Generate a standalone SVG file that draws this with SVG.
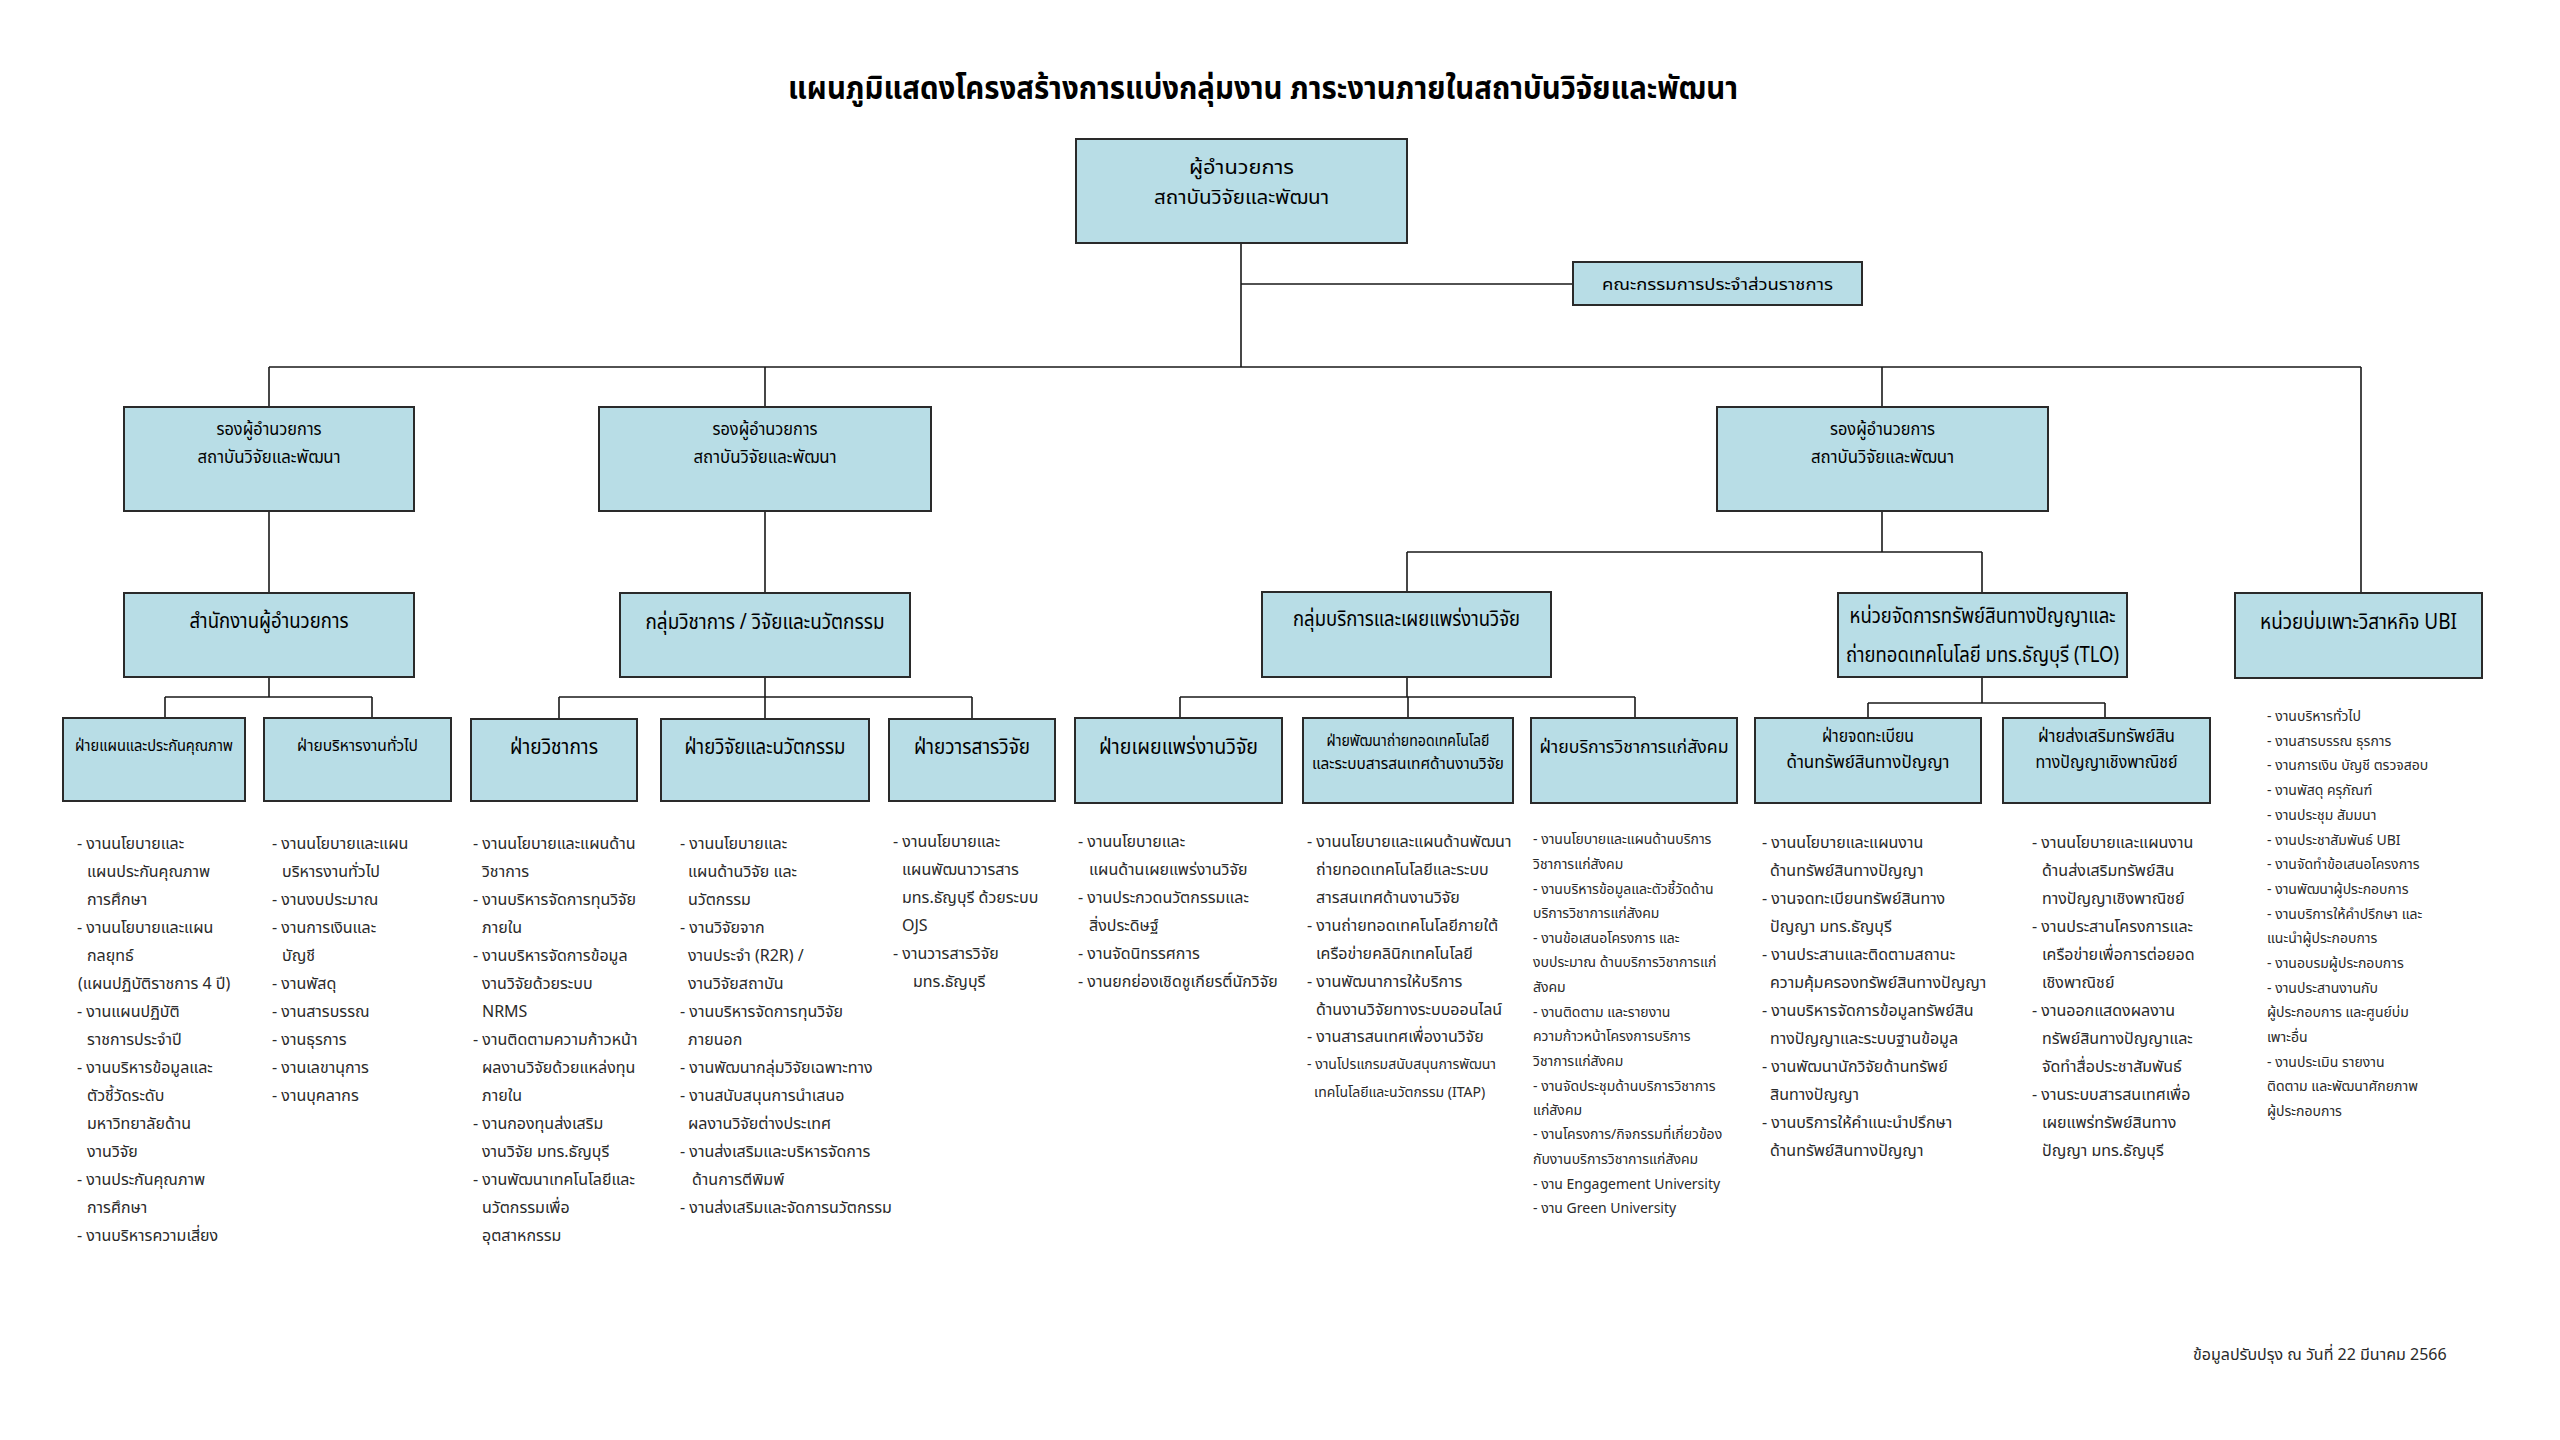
<svg xmlns="http://www.w3.org/2000/svg" width="2560" height="1440" viewBox="0 0 2560 1440">
<style>
.box{fill:#b8dde6;stroke:#2a2a2a;stroke-width:2}
.ln{stroke:#1a1a1a;stroke-width:1.6;fill:none}
.t{font-family:'Noto Sans Thai','Noto Sans Thai UI','Noto Sans','Liberation Sans',sans-serif;fill:#000;text-anchor:middle}
.li{font-family:'Noto Sans Thai','Noto Sans Thai UI','Noto Sans','Liberation Sans',sans-serif;fill:#2a2a2a;font-size:16px}
.ls{font-size:14px}
</style>
<rect width="2560" height="1440" fill="#fff"/>
<text class="t" x="1263" y="99" font-size="32" font-weight="bold" textLength="950" lengthAdjust="spacingAndGlyphs">แผนภูมิแสดงโครงสร้างการแบ่งกลุ่มงาน ภาระงานภายในสถาบันวิจัยและพัฒนา</text>

<g id="connectors">
<path class="ln" d="M1241 243V367M1241 284H1573M269 367H2361M269 367V407M765 367V407M1882 367V407M2361 367V593"/>
<path class="ln" d="M269 511V593M765 511V593M1882 511V552M1407 552H1982M1407 552V592M1982 552V593"/>
<path class="ln" d="M269 677V697M165 697H372M165 697V718M372 697V718"/>
<path class="ln" d="M765 677V697M559 697H972M559 697V719M765 697V719M972 697V719"/>
<path class="ln" d="M1407 677V697M1180 697H1635M1180 697V718M1408 697V718M1635 697V718"/>
<path class="ln" d="M1982 677V703M1868 703H2105M1868 703V718M2105 703V718"/>
</g>

<g id="director">
<rect class="box" x="1076" y="139" width="331" height="104"/>
<text class="t" x="1241.5" y="174" font-size="19" textLength="105" lengthAdjust="spacingAndGlyphs">ผู้อำนวยการ</text>
<text class="t" x="1241.5" y="204" font-size="19" textLength="175" lengthAdjust="spacingAndGlyphs">สถาบันวิจัยและพัฒนา</text>
</g>
<g id="committee">
<rect class="box" x="1573" y="262" width="289" height="43"/>
<text class="t" x="1717.5" y="290" font-size="16" textLength="231" lengthAdjust="spacingAndGlyphs">คณะกรรมการประจำส่วนราชการ</text>
</g>

<g id="deputy1">
<rect class="box" x="124" y="407" width="290" height="104"/>
<text class="t" x="269" y="435" font-size="18" textLength="105" lengthAdjust="spacingAndGlyphs">รองผู้อำนวยการ</text>
<text class="t" x="269" y="463" font-size="18" textLength="143" lengthAdjust="spacingAndGlyphs">สถาบันวิจัยและพัฒนา</text>
</g>
<g id="deputy2">
<rect class="box" x="599" y="407" width="332" height="104"/>
<text class="t" x="765" y="435" font-size="18" textLength="105" lengthAdjust="spacingAndGlyphs">รองผู้อำนวยการ</text>
<text class="t" x="765" y="463" font-size="18" textLength="143" lengthAdjust="spacingAndGlyphs">สถาบันวิจัยและพัฒนา</text>
</g>
<g id="deputy3">
<rect class="box" x="1717" y="407" width="331" height="104"/>
<text class="t" x="1882.5" y="435" font-size="18" textLength="105" lengthAdjust="spacingAndGlyphs">รองผู้อำนวยการ</text>
<text class="t" x="1882.5" y="463" font-size="18" textLength="143" lengthAdjust="spacingAndGlyphs">สถาบันวิจัยและพัฒนา</text>
</g>

<g id="office">
<rect class="box" x="124" y="593" width="290" height="84"/>
<text class="t" x="269" y="628" font-size="21" textLength="159" lengthAdjust="spacingAndGlyphs">สำนักงานผู้อำนวยการ</text>
</g>
<g id="academic">
<rect class="box" x="620" y="593" width="290" height="84"/>
<text class="t" x="765" y="629" font-size="21" textLength="239" lengthAdjust="spacingAndGlyphs">กลุ่มวิชาการ / วิจัยและนวัตกรรม</text>
</g>
<g id="service">
<rect class="box" x="1262" y="592" width="289" height="85"/>
<text class="t" x="1406.5" y="626" font-size="21" textLength="227" lengthAdjust="spacingAndGlyphs">กลุ่มบริการและเผยแพร่งานวิจัย</text>
</g>
<g id="tlo">
<rect class="box" x="1838" y="593" width="289" height="84"/>
<text class="t" x="1982.5" y="623" font-size="21" textLength="266" lengthAdjust="spacingAndGlyphs">หน่วยจัดการทรัพย์สินทางปัญญาและ</text>
<text class="t" x="1982.5" y="662" font-size="21" textLength="273" lengthAdjust="spacingAndGlyphs">ถ่ายทอดเทคโนโลยี มทร.ธัญบุรี (TLO)</text>
</g>
<g id="ubi">
<rect class="box" x="2235" y="593" width="247" height="85"/>
<text class="t" x="2358.5" y="629" font-size="21" textLength="197" lengthAdjust="spacingAndGlyphs">หน่วยบ่มเพาะวิสาหกิจ UBI</text>
</g>

<g id="div-plan">
<rect class="box" x="63" y="718" width="182" height="83"/>
<text class="t" x="154" y="751" font-size="16" textLength="158" lengthAdjust="spacingAndGlyphs">ฝ่ายแผนและประกันคุณภาพ</text>
</g>
<g id="div-admin">
<rect class="box" x="264" y="718" width="187" height="83"/>
<text class="t" x="357.5" y="751" font-size="16" textLength="121" lengthAdjust="spacingAndGlyphs">ฝ่ายบริหารงานทั่วไป</text>
</g>
<g id="div-academic">
<rect class="box" x="471" y="719" width="166" height="82"/>
<text class="t" x="554" y="754" font-size="21" textLength="88" lengthAdjust="spacingAndGlyphs">ฝ่ายวิชาการ</text>
</g>
<g id="div-research">
<rect class="box" x="661" y="719" width="208" height="82"/>
<text class="t" x="765" y="754" font-size="21" textLength="161" lengthAdjust="spacingAndGlyphs">ฝ่ายวิจัยและนวัตกรรม</text>
</g>
<g id="div-journal">
<rect class="box" x="889" y="719" width="166" height="82"/>
<text class="t" x="972" y="754" font-size="21" textLength="116" lengthAdjust="spacingAndGlyphs">ฝ่ายวารสารวิจัย</text>
</g>
<g id="div-dissem">
<rect class="box" x="1075" y="718" width="207" height="85"/>
<text class="t" x="1178.5" y="754" font-size="21" textLength="159" lengthAdjust="spacingAndGlyphs">ฝ่ายเผยแพร่งานวิจัย</text>
</g>
<g id="div-tech">
<rect class="box" x="1303" y="718" width="210" height="85"/>
<text class="t" x="1408" y="746" font-size="15" textLength="163" lengthAdjust="spacingAndGlyphs">ฝ่ายพัฒนาถ่ายทอดเทคโนโลยี</text>
<text class="t" x="1408" y="769" font-size="15" textLength="192" lengthAdjust="spacingAndGlyphs">และระบบสารสนเทศด้านงานวิจัย</text>
</g>
<g id="div-social">
<rect class="box" x="1531" y="718" width="206" height="85"/>
<text class="t" x="1634" y="753" font-size="18" textLength="189" lengthAdjust="spacingAndGlyphs">ฝ่ายบริการวิชาการแก่สังคม</text>
</g>
<g id="div-ipreg">
<rect class="box" x="1755" y="718" width="226" height="85"/>
<text class="t" x="1868" y="742" font-size="18" textLength="92" lengthAdjust="spacingAndGlyphs">ฝ่ายจดทะเบียน</text>
<text class="t" x="1868" y="768" font-size="18" textLength="163" lengthAdjust="spacingAndGlyphs">ด้านทรัพย์สินทางปัญญา</text>
</g>
<g id="div-ipcom">
<rect class="box" x="2003" y="718" width="207" height="85"/>
<text class="t" x="2106.5" y="742" font-size="18" textLength="137" lengthAdjust="spacingAndGlyphs">ฝ่ายส่งเสริมทรัพย์สิน</text>
<text class="t" x="2106.5" y="768" font-size="18" textLength="142" lengthAdjust="spacingAndGlyphs">ทางปัญญาเชิงพาณิชย์</text>
</g>

<g id="lists">
<text class="li">
<tspan x="77" y="849">- งานนโยบายและ</tspan>
<tspan x="87" y="877">แผนประกันคุณภาพ</tspan>
<tspan x="87" y="905">การศึกษา</tspan>
<tspan x="77" y="933">- งานนโยบายและแผน</tspan>
<tspan x="87" y="961">กลยุทธ์</tspan>
<tspan x="78" y="989">(แผนปฏิบัติราชการ 4 ปี)</tspan>
<tspan x="77" y="1017">- งานแผนปฏิบัติ</tspan>
<tspan x="87" y="1045">ราชการประจำปี</tspan>
<tspan x="77" y="1073">- งานบริหารข้อมูลและ</tspan>
<tspan x="87" y="1101">ตัวชี้วัดระดับ</tspan>
<tspan x="87" y="1129">มหาวิทยาลัยด้าน</tspan>
<tspan x="87" y="1157">งานวิจัย</tspan>
<tspan x="77" y="1185">- งานประกันคุณภาพ</tspan>
<tspan x="87" y="1213">การศึกษา</tspan>
<tspan x="77" y="1241">- งานบริหารความเสี่ยง</tspan>
</text>
<text class="li">
<tspan x="272" y="849">- งานนโยบายและแผน</tspan>
<tspan x="282" y="877">บริหารงานทั่วไป</tspan>
<tspan x="272" y="905">-  งานงบประมาณ</tspan>
<tspan x="272" y="933">- งานการเงินและ</tspan>
<tspan x="282" y="961">บัญชี</tspan>
<tspan x="272" y="989">- งานพัสดุ</tspan>
<tspan x="272" y="1017">- งานสารบรรณ</tspan>
<tspan x="272" y="1045">- งานธุรการ</tspan>
<tspan x="272" y="1073">- งานเลขานุการ</tspan>
<tspan x="272" y="1101">- งานบุคลากร</tspan>
</text>
<text class="li">
<tspan x="473" y="849">- งานนโยบายและแผนด้าน</tspan>
<tspan x="482" y="877">วิชาการ</tspan>
<tspan x="473" y="905">- งานบริหารจัดการทุนวิจัย</tspan>
<tspan x="482" y="933">ภายใน</tspan>
<tspan x="473" y="961">- งานบริหารจัดการข้อมูล</tspan>
<tspan x="482" y="989">งานวิจัยด้วยระบบ</tspan>
<tspan x="482" y="1017">NRMS</tspan>
<tspan x="473" y="1045">- งานติดตามความก้าวหน้า</tspan>
<tspan x="482" y="1073">ผลงานวิจัยด้วยแหล่งทุน</tspan>
<tspan x="482" y="1101">ภายใน</tspan>
<tspan x="473" y="1129">- งานกองทุนส่งเสริม</tspan>
<tspan x="482" y="1157">งานวิจัย มทร.ธัญบุรี</tspan>
<tspan x="473" y="1185">- งานพัฒนาเทคโนโลยีและ</tspan>
<tspan x="482" y="1213">นวัตกรรมเพื่อ</tspan>
<tspan x="482" y="1241">อุตสาหกรรม</tspan>
</text>
<text class="li">
<tspan x="680" y="849">- งานนโยบายและ</tspan>
<tspan x="688" y="877">แผนด้านวิจัย และ</tspan>
<tspan x="688" y="905">นวัตกรรม</tspan>
<tspan x="680" y="933">- งานวิจัยจาก</tspan>
<tspan x="688" y="961">งานประจำ (R2R)  /</tspan>
<tspan x="688" y="989">งานวิจัยสถาบัน</tspan>
<tspan x="680" y="1017">- งานบริหารจัดการทุนวิจัย</tspan>
<tspan x="688" y="1045">ภายนอก</tspan>
<tspan x="680" y="1073">- งานพัฒนากลุ่มวิจัยเฉพาะทาง</tspan>
<tspan x="680" y="1101">- งานสนับสนุนการนำเสนอ</tspan>
<tspan x="688" y="1129">ผลงานวิจัยต่างประเทศ</tspan>
<tspan x="680" y="1157">- งานส่งเสริมและบริหารจัดการ</tspan>
<tspan x="692" y="1185">ด้านการตีพิมพ์</tspan>
<tspan x="680" y="1213">- งานส่งเสริมและจัดการนวัตกรรม</tspan>
</text>
<text class="li">
<tspan x="893" y="847">- งานนโยบายและ</tspan>
<tspan x="902" y="875">แผนพัฒนาวารสาร</tspan>
<tspan x="902" y="903">มทร.ธัญบุรี ด้วยระบบ</tspan>
<tspan x="902" y="931">OJS</tspan>
<tspan x="893" y="959">- งานวารสารวิจัย</tspan>
<tspan x="913" y="987">มทร.ธัญบุรี</tspan>
</text>
<text class="li">
<tspan x="1078" y="847">- งานนโยบายและ</tspan>
<tspan x="1089" y="875">แผนด้านเผยแพร่งานวิจัย</tspan>
<tspan x="1078" y="903">- งานประกวดนวัตกรรมและ</tspan>
<tspan x="1089" y="931">สิ่งประดิษฐ์</tspan>
<tspan x="1078" y="959">- งานจัดนิทรรศการ</tspan>
<tspan x="1078" y="987">- งานยกย่องเชิดชูเกียรติ์นักวิจัย</tspan>
</text>
<text class="li">
<tspan x="1307" y="847">- งานนโยบายและแผนด้านพัฒนา</tspan>
<tspan x="1316" y="875">ถ่ายทอดเทคโนโลยีและระบบ</tspan>
<tspan x="1316" y="903">สารสนเทศด้านงานวิจัย</tspan>
<tspan x="1307" y="931">- งานถ่ายทอดเทคโนโลยีภายใต้</tspan>
<tspan x="1316" y="959">เครือข่ายคลินิกเทคโนโลยี</tspan>
<tspan x="1307" y="987">- งานพัฒนาการให้บริการ</tspan>
<tspan x="1316" y="1015">ด้านงานวิจัยทางระบบออนไลน์</tspan>
<tspan x="1307" y="1042">- งานสารสนเทศเพื่องานวิจัย</tspan>
<tspan class="ls" x="1307" y="1069">- งานโปรแกรมสนับสนุนการพัฒนา</tspan>
<tspan class="ls" x="1314" y="1097">เทคโนโลยีและนวัตกรรม (ITAP)</tspan>
</text>
<text class="li ls">
<tspan x="1533" y="844">- งานนโยบายและแผนด้านบริการ</tspan>
<tspan x="1533" y="869">วิชาการแก่สังคม</tspan>
<tspan x="1533" y="894">- งานบริหารข้อมูลและตัวชี้วัดด้าน</tspan>
<tspan x="1533" y="918">บริการวิชาการแก่สังคม</tspan>
<tspan x="1533" y="943">- งานข้อเสนอโครงการ และ</tspan>
<tspan x="1533" y="967">งบประมาณ ด้านบริการวิชาการแก่</tspan>
<tspan x="1533" y="992">สังคม</tspan>
<tspan x="1533" y="1017">- งานติดตาม และรายงาน</tspan>
<tspan x="1533" y="1041">ความก้าวหน้าโครงการบริการ</tspan>
<tspan x="1533" y="1066">วิชาการแก่สังคม</tspan>
<tspan x="1533" y="1091">- งานจัดประชุมด้านบริการวิชาการ</tspan>
<tspan x="1533" y="1115">แก่สังคม</tspan>
<tspan x="1533" y="1139">- งานโครงการ/กิจกรรมที่เกี่ยวข้อง</tspan>
<tspan x="1533" y="1164">กับงานบริการวิชาการแก่สังคม</tspan>
<tspan x="1533" y="1189">- งาน Engagement University</tspan>
<tspan x="1533" y="1213">- งาน Green University</tspan>
</text>
<text class="li">
<tspan x="1762" y="848">- งานนโยบายและแผนงาน</tspan>
<tspan x="1770" y="876">ด้านทรัพย์สินทางปัญญา</tspan>
<tspan x="1762" y="904">- งานจดทะเบียนทรัพย์สินทาง</tspan>
<tspan x="1770" y="932">ปัญญา มทร.ธัญบุรี</tspan>
<tspan x="1762" y="960">- งานประสานและติดตามสถานะ</tspan>
<tspan x="1770" y="988">ความคุ้มครองทรัพย์สินทางปัญญา</tspan>
<tspan x="1762" y="1016">- งานบริหารจัดการข้อมูลทรัพย์สิน</tspan>
<tspan x="1770" y="1044">ทางปัญญาและระบบฐานข้อมูล</tspan>
<tspan x="1762" y="1072">- งานพัฒนานักวิจัยด้านทรัพย์</tspan>
<tspan x="1770" y="1100">สินทางปัญญา</tspan>
<tspan x="1762" y="1128">- งานบริการให้คำแนะนำปรึกษา</tspan>
<tspan x="1770" y="1156">ด้านทรัพย์สินทางปัญญา</tspan>
</text>
<text class="li">
<tspan x="2032" y="848">- งานนโยบายและแผนงาน</tspan>
<tspan x="2042" y="876">ด้านส่งเสริมทรัพย์สิน</tspan>
<tspan x="2042" y="904">ทางปัญญาเชิงพาณิชย์</tspan>
<tspan x="2032" y="932">- งานประสานโครงการและ</tspan>
<tspan x="2042" y="960">เครือข่ายเพื่อการต่อยอด</tspan>
<tspan x="2042" y="988">เชิงพาณิชย์</tspan>
<tspan x="2032" y="1016">- งานออกแสดงผลงาน</tspan>
<tspan x="2042" y="1044">ทรัพย์สินทางปัญญาและ</tspan>
<tspan x="2042" y="1072">จัดทำสื่อประชาสัมพันธ์</tspan>
<tspan x="2032" y="1100">- งานระบบสารสนเทศเพื่อ</tspan>
<tspan x="2042" y="1128">เผยแพร่ทรัพย์สินทาง</tspan>
<tspan x="2042" y="1156">ปัญญา มทร.ธัญบุรี</tspan>
</text>
<text class="li ls">
<tspan x="2267" y="721">- งานบริหารทั่วไป</tspan>
<tspan x="2267" y="746">- งานสารบรรณ ธุรการ</tspan>
<tspan x="2267" y="770">- งานการเงิน บัญชี ตรวจสอบ</tspan>
<tspan x="2267" y="795">- งานพัสดุ ครุภัณฑ์</tspan>
<tspan x="2267" y="820">- งานประชุม สัมมนา</tspan>
<tspan x="2267" y="845">- งานประชาสัมพันธ์ UBI</tspan>
<tspan x="2267" y="869">- งานจัดทำข้อเสนอโครงการ</tspan>
<tspan x="2267" y="894">- งานพัฒนาผู้ประกอบการ</tspan>
<tspan x="2267" y="919">- งานบริการให้คำปรึกษา และ</tspan>
<tspan x="2267" y="943">แนะนำผู้ประกอบการ</tspan>
<tspan x="2267" y="968">- งานอบรมผู้ประกอบการ</tspan>
<tspan x="2267" y="993">- งานประสานงานกับ</tspan>
<tspan x="2267" y="1017">ผู้ประกอบการ และศูนย์บ่ม</tspan>
<tspan x="2267" y="1042">เพาะอื่น</tspan>
<tspan x="2267" y="1067">- งานประเมิน รายงาน</tspan>
<tspan x="2267" y="1091">ติดตาม และพัฒนาศักยภาพ</tspan>
<tspan x="2267" y="1116">ผู้ประกอบการ</tspan>
</text>
</g>
<text class="li" x="2193" y="1360" font-size="15" fill="#333">ข้อมูลปรับปรุง ณ วันที่ 22 มีนาคม 2566</text>
</svg>
